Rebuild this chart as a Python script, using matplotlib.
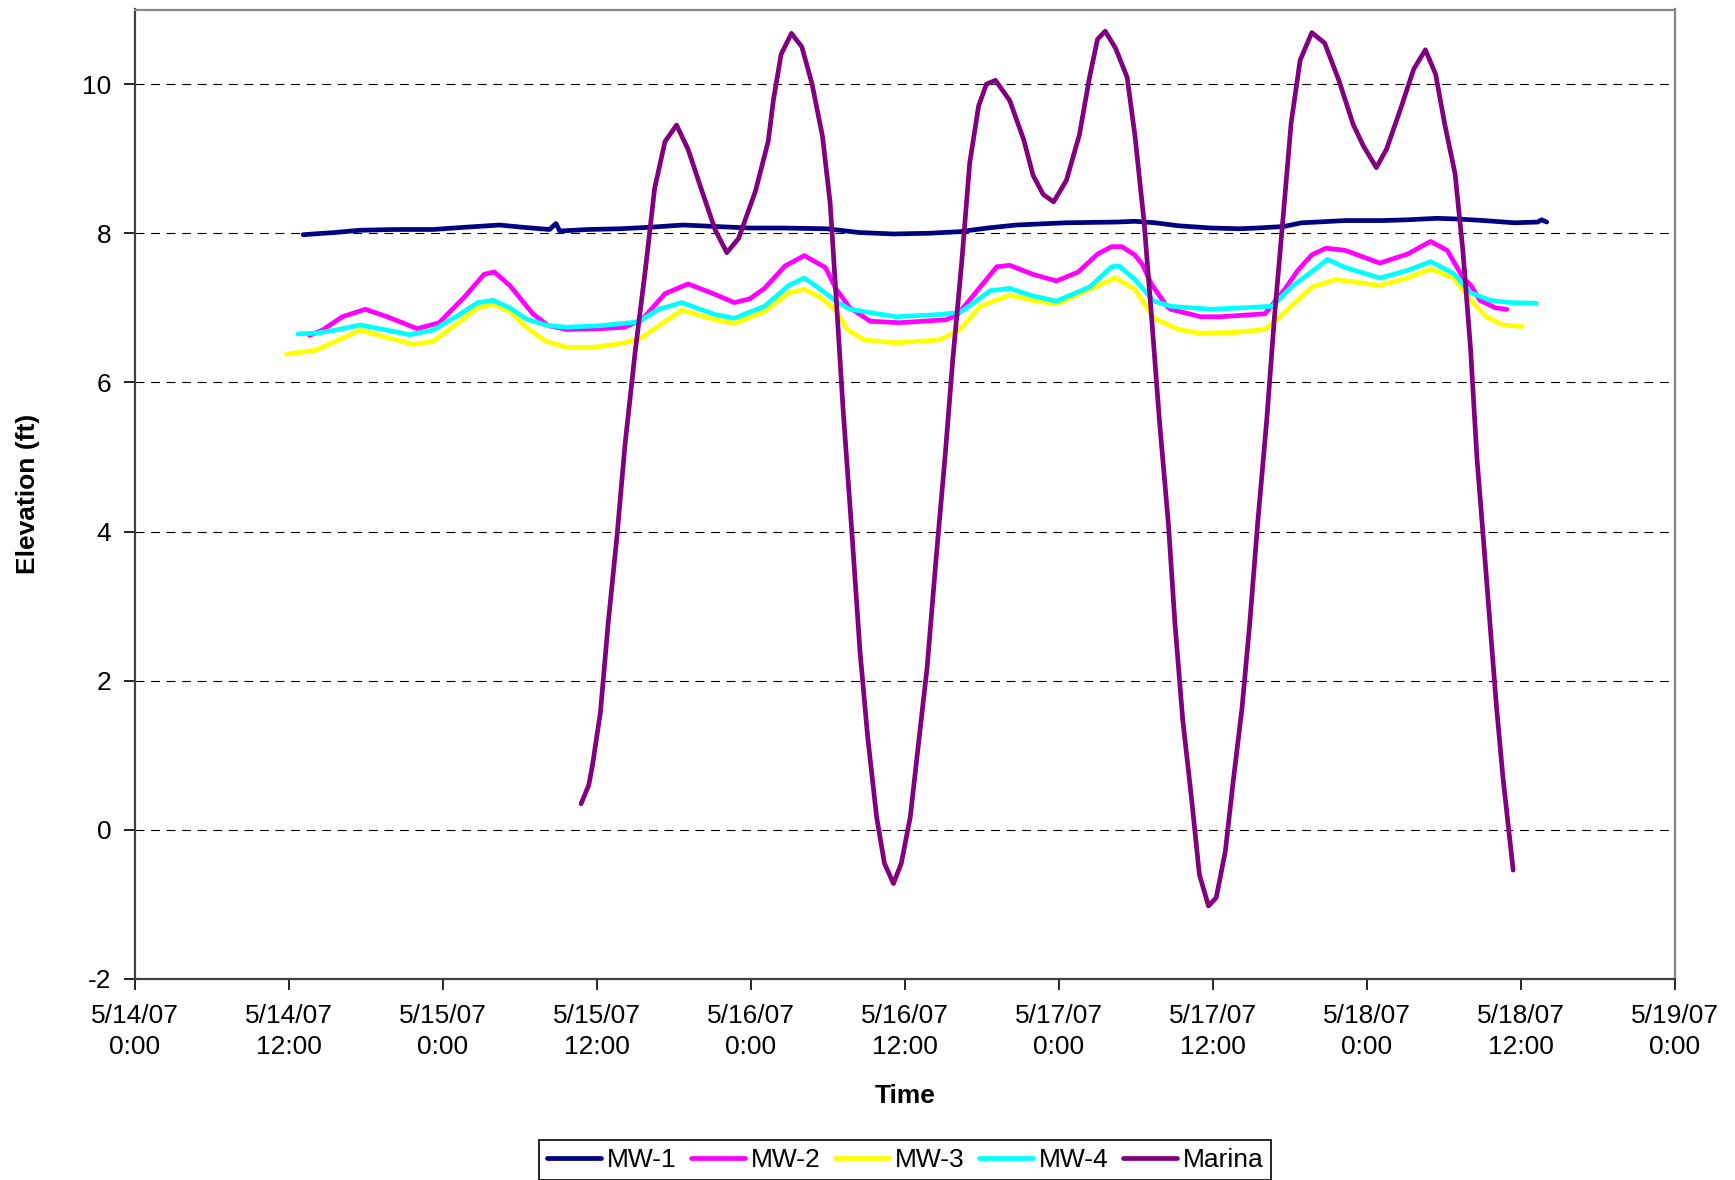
import matplotlib
matplotlib.use("Agg")
import matplotlib.pyplot as plt

plt.rcParams['font.family'] = ['Liberation Sans', 'DejaVu Sans']

# ---- data (time in hours from 5/14/07 0:00) ----
mw1_t = [13.1, 13.9, 15.6, 17.5, 20.2, 23.2, 25.7, 28.4, 30.2, 32.3, 32.8, 33.1, 35.3, 37.8,
         40.1, 42.7, 45.3, 47.9, 50.35, 53.9, 56.4, 59.1, 61.9, 64.2, 66.45, 68.65, 72.5, 76.5,
         77.9, 79.5, 81.3, 83.85, 86.05, 87.45, 89.5, 90.9, 92.1, 94.3, 97.2, 99.15, 101.45,
         103.15, 105.1, 107.5, 109.3, 109.6, 110.0]
mw1_y = [7.98, 7.99, 8.01, 8.04, 8.05, 8.05, 8.08, 8.11, 8.08, 8.05, 8.13, 8.03, 8.05, 8.06,
         8.08, 8.11, 8.09, 8.07, 8.07, 8.06, 8.01, 7.99, 8.00, 8.02, 8.07, 8.11, 8.14, 8.15,
         8.16, 8.14, 8.10, 8.07, 8.06, 8.07, 8.09, 8.14, 8.15, 8.17, 8.17, 8.18, 8.20,
         8.19, 8.17, 8.14, 8.15, 8.18, 8.15]

mw2_t = [13.6, 14.6, 16.15, 17.95, 19.65, 22.0, 23.7, 25.7, 27.2, 28.0, 29.2, 31.0, 32.2, 33.65,
         36.25, 38.15, 39.5, 41.3, 43.1, 45.2, 46.7, 47.9, 49.05, 50.65, 52.15, 53.8, 54.6, 55.7,
         57.3, 59.6, 63.2, 64.05, 65.25, 67.15, 68.15, 69.95, 71.8, 73.5, 75.0, 76.1, 76.9, 77.9,
         78.5, 79.2, 80.4, 80.7, 83.05, 84.55, 88.05, 89.6, 90.6, 91.7, 92.8, 94.3, 97.0, 99.15,
         100.95, 102.25, 103.5, 104.1, 104.8, 106.0, 106.9]
mw2_y = [6.63, 6.70, 6.88, 6.98, 6.88, 6.72, 6.80, 7.15, 7.45, 7.48, 7.30, 6.92, 6.76, 6.71,
         6.72, 6.74, 6.84, 7.19, 7.32, 7.18, 7.07, 7.12, 7.26, 7.56, 7.70, 7.54, 7.26, 7.00,
         6.82, 6.80, 6.84, 6.90, 7.15, 7.55, 7.57, 7.45, 7.36, 7.48, 7.72, 7.82, 7.82, 7.71,
         7.58, 7.32, 7.02, 6.98, 6.88, 6.88, 6.92, 7.25, 7.50, 7.71, 7.80, 7.77, 7.60, 7.72,
         7.89, 7.77, 7.40, 7.30, 7.10, 7.00, 6.98]

mw3_t = [11.8, 13.1, 14.1, 15.6, 17.55, 19.65, 21.7, 23.2, 25.2, 26.7, 27.9, 29.2, 30.5, 32.0,
         33.65, 35.75, 38.15, 39.5, 40.3, 42.6, 45.2, 46.7, 49.05, 50.95, 52.15, 53.4, 54.6, 55.5,
         56.8, 59.3, 62.7, 64.3, 65.85, 68.15, 69.95, 71.8, 74.4, 76.4, 77.9, 79.4, 81.3, 82.95,
         85.75, 88.05, 89.6, 91.7, 93.6, 97.0, 99.15, 100.95, 102.75, 104.1, 105.3, 106.6, 108.1]
mw3_y = [6.38, 6.41, 6.43, 6.55, 6.70, 6.60, 6.51, 6.55, 6.80, 7.00, 7.05, 6.95, 6.74, 6.55,
         6.47, 6.47, 6.53, 6.60, 6.70, 6.97, 6.84, 6.79, 6.95, 7.20, 7.25, 7.14, 6.97, 6.71,
         6.57, 6.53, 6.57, 6.71, 7.02, 7.17, 7.10, 7.05, 7.25, 7.40, 7.25, 6.86, 6.71, 6.66,
         6.67, 6.71, 6.94, 7.28, 7.38, 7.30, 7.40, 7.52, 7.40, 7.10, 6.88, 6.77, 6.75]

mw4_t = [12.7, 14.1, 15.6, 17.55, 19.65, 21.4, 23.2, 25.2, 26.7, 27.9, 29.2, 30.5, 32.2, 33.65,
         36.25, 39.2, 40.8, 42.6, 45.2, 46.7, 49.05, 50.95, 52.15, 53.4, 54.6, 55.7, 59.3, 62.7,
         64.3, 65.45, 66.65, 68.15, 69.95, 71.8, 74.4, 76.1, 76.7, 77.9, 79.4, 80.7, 83.85, 88.6,
         90.1, 92.2, 92.9, 94.3, 97.0, 99.15, 100.95, 102.75, 104.1, 105.6, 107.2, 109.2]
mw4_y = [6.65, 6.66, 6.70, 6.77, 6.70, 6.64, 6.70, 6.90, 7.07, 7.10, 7.00, 6.85, 6.76, 6.74,
         6.76, 6.81, 6.98, 7.07, 6.91, 6.86, 7.02, 7.30, 7.40, 7.25, 7.09, 6.98, 6.88, 6.91,
         6.94, 7.08, 7.23, 7.26, 7.16, 7.09, 7.28, 7.55, 7.56, 7.38, 7.09, 7.02, 6.98, 7.02,
         7.28, 7.55, 7.65, 7.54, 7.40, 7.50, 7.62, 7.46, 7.20, 7.10, 7.07, 7.06]

marina_t = [34.76, 35.36, 35.66, 36.27, 36.87, 37.57, 38.18, 38.98, 39.79, 40.49, 41.3, 42.2,
            43.11, 44.11, 45.22, 46.12, 47.03, 48.34, 49.34, 49.75, 50.35, 51.15, 51.96, 52.76,
            53.57, 54.17, 54.68, 55.18, 55.88, 56.49, 57.09, 57.79, 58.4, 59.1, 59.71, 60.41,
            61.01, 61.72, 62.42, 63.13, 63.73, 64.43, 65.04, 65.74, 66.35, 67.05, 68.16, 69.26,
            69.97, 70.77, 71.58, 72.58, 73.59, 74.39, 75.0, 75.6, 76.41, 77.31, 77.91, 78.62,
            79.22, 79.83, 80.53, 81.03, 81.64, 82.34, 82.94, 83.65, 84.25, 84.96, 85.56, 86.26,
            86.87, 87.47, 88.18, 88.78, 89.48, 90.09, 90.79, 91.7, 92.7, 93.81, 94.92, 95.72,
            96.73, 97.53, 98.64, 99.64, 100.55, 101.35, 102.06, 102.86, 103.47, 104.07, 104.57,
            105.08, 105.58, 106.08, 106.59, 107.39]
marina_y = [0.35, 0.60, 0.88, 1.58, 2.77, 3.96, 5.16, 6.42, 7.54, 8.60, 9.23, 9.45,
            9.12, 8.60, 8.04, 7.74, 7.93, 8.56, 9.23, 9.79, 10.40, 10.68, 10.50, 10.00,
            9.30, 8.40, 7.02, 5.63, 3.94, 2.40, 1.25, 0.17, -0.45, -0.72, -0.45, 0.17,
            1.09, 2.17, 3.63, 5.02, 6.32, 7.63, 8.94, 9.71, 10.00, 10.05, 9.78, 9.25,
            8.78, 8.52, 8.42, 8.71, 9.32, 10.10, 10.60, 10.71, 10.48, 10.09, 9.32, 8.17,
            6.86, 5.48, 4.09, 2.78, 1.48, 0.40, -0.60, -1.02, -0.91, -0.29, 0.63, 1.63,
            2.78, 4.09, 5.48, 6.86, 8.25, 9.48, 10.32, 10.69, 10.55, 10.05, 9.46, 9.17,
            8.88, 9.13, 9.68, 10.20, 10.46, 10.13, 9.46, 8.80, 7.77, 6.45, 4.98,
            3.88, 2.77, 1.67, 0.71, -0.54]

series_names = ['MW-1', 'MW-2', 'MW-3', 'MW-4', 'Marina']
series_colors = ['#000080', '#FF00FF', '#FFFF00', '#00FFFF', '#800080']

x_ticks = [0, 12, 24, 36, 48, 60, 72, 84, 96, 108, 120]
x_tick_labels = ['5/14/07\n0:00', '5/14/07\n12:00', '5/15/07\n0:00', '5/15/07\n12:00',
                 '5/16/07\n0:00', '5/16/07\n12:00', '5/17/07\n0:00', '5/17/07\n12:00',
                 '5/18/07\n0:00', '5/18/07\n12:00', '5/19/07\n0:00']
y_ticks = [-2, 0, 2, 4, 6, 8, 10]

# ---- figure ----
fig = plt.figure(figsize=(17.35, 11.8), dpi=100)
ax = fig.add_axes([135 / 1735, 1 - 979 / 1180, 1540 / 1735, 969.5 / 1180])

for y in y_ticks[1:]:
    ax.axhline(y, color='black', lw=0.8, linestyle=(0, (8, 6)), zorder=1)

data = [(mw1_t, mw1_y), (mw2_t, mw2_y), (mw3_t, mw3_y), (mw4_t, mw4_y), (marina_t, marina_y)]
for (t, y), name, c in zip(data, series_names, series_colors):
    ax.plot(t, y, color=c, lw=3.4, label=name, solid_capstyle='round',
            solid_joinstyle='round', zorder=3)

ax.set_xlim(0, 120)
ax.set_ylim(-2, 11)
ax.set_xticks(x_ticks)
ax.set_xticklabels(x_tick_labels, fontsize=19, linespacing=1.35)
ax.set_yticks(y_ticks)
ax.set_yticklabels([str(v) for v in y_ticks], fontsize=19)
ax.tick_params(axis='x', direction='out', length=8, width=1.2, pad=10, colors='black')
ax.tick_params(axis='y', direction='out', length=8, width=1.2, pad=9, colors='black')
for s in ['left', 'bottom']:
    ax.spines[s].set_color('#404040')
    ax.spines[s].set_linewidth(1.6)
for s in ['top', 'right']:
    ax.spines[s].set_color('#888888')
    ax.spines[s].set_linewidth(1.6)

ax.set_ylabel('Elevation (ft)', fontsize=19, fontweight='bold')
ax.yaxis.set_label_coords(-0.062, 0.5)
fig.text(905 / 1735, 1 - 1096 / 1180, 'Time', fontsize=19, fontweight='bold',
         ha='center', va='center')

leg = fig.legend(loc='upper center', bbox_to_anchor=(905 / 1735, 1 - 1140 / 1180), ncol=5,
                 fontsize=19, frameon=True, fancybox=False, shadow=False, framealpha=1,
                 edgecolor='black', handlelength=2.05, handletextpad=0.22, columnspacing=0.55,
                 borderpad=0.3, borderaxespad=0)
leg.get_frame().set_linewidth(1.2)

fig.savefig('out.png', dpi=100)
